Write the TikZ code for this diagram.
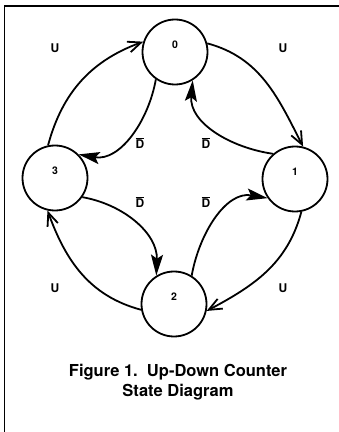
\documentclass[tikz,border=0pt]{standalone}
\usepackage{fontspec}
\setmainfont{TeX Gyre Heros}
\usetikzlibrary{arrows.meta}

\newcommand{\lift}[1]{\raisebox{3.5pt}[0pt][0pt]{#1}}
\newcommand{\Dbar}{\leavevmode\rlap{\rule[\dimexpr\fontcharht\font`D+1pt\relax]{\fontcharwd\font`D}{1.1pt}}D}

\begin{document}
\begin{tikzpicture}[x=1pt, y=1pt, line width=1.8pt,
    every node/.style={font=\bfseries},
    state/.style={circle, draw, minimum size=65pt, inner sep=0pt, font=\bfseries\fontsize{10.5}{12}\selectfont},
    up/.style={-{Straight Barb[length=13pt,width=11pt]}},
    down/.style={-{Stealth[length=21pt,width=12pt,inset=4pt]}},
    cond/.style={font=\bfseries\fontsize{12}{14}\selectfont}]

    \useasboundingbox (0,0) rectangle (339,432);

    % --- 1. frame ---
    \coordinate (frameBL) at (4.5,0);
    \coordinate (frameTR) at (339,426);
    \draw[line width=1.8pt] (frameBL) |- (frameTR);

    % --- 2. states ---
    \node[state] (s0) at (175,380) {\lift{0}};
    \node[state] (s1) at (295,253) {\lift{1}};
    \node[state] (s2) at (174,128) {\lift{2}};
    \node[state] (s3) at (55,254) {\lift{3}};

    % --- 3. U: outer arcs, clockwise ---
    \draw[up] (s3.102) to[out=75, in=200] (s0.162);
    \draw[up] (s0.15) to[out=-15, in=117] (s1.76);
    \draw[up] (s1.-79) to[out=-105, in=28] (s2.-12);
    \draw[up] (s2.190) to[out=165, in=-70] (s3.-103);

    % --- 4. D-bar: inner arcs, counter-clockwise ---
    \draw[down] (s0.235) to[out=260, in=350] (s3.45);
    \draw[down] (s3.325) to[out=350, in=88] (s2.122);
    \draw[down] (s2.58) to[out=80, in=170] (s1.215);
    \draw[down] (s1.131) to[out=172, in=265] (s0.302);

    % --- 5. input labels ---
    \node[cond] (u30) at (55,384) {U};
    \node[cond] (u01) at (283,384) {U};
    \node[cond] (u12) at (283,144) {U};
    \node[cond] (u23) at (55,144) {U};
    \node[cond] (d03) at (140,289) {\Dbar};
    \node[cond] (d10) at (206,289) {\Dbar};
    \node[cond] (d32) at (140,230) {\Dbar};
    \node[cond] (d21) at (206,230) {\Dbar};

    % --- 6. caption ---
    \node[font=\bfseries\fontsize{16.5}{20}\selectfont, align=center, inner sep=0pt] (caption)
        at (178,49.5) {Figure 1.~~Up-Down Counter\\State Diagram};

\end{tikzpicture}
\end{document}
